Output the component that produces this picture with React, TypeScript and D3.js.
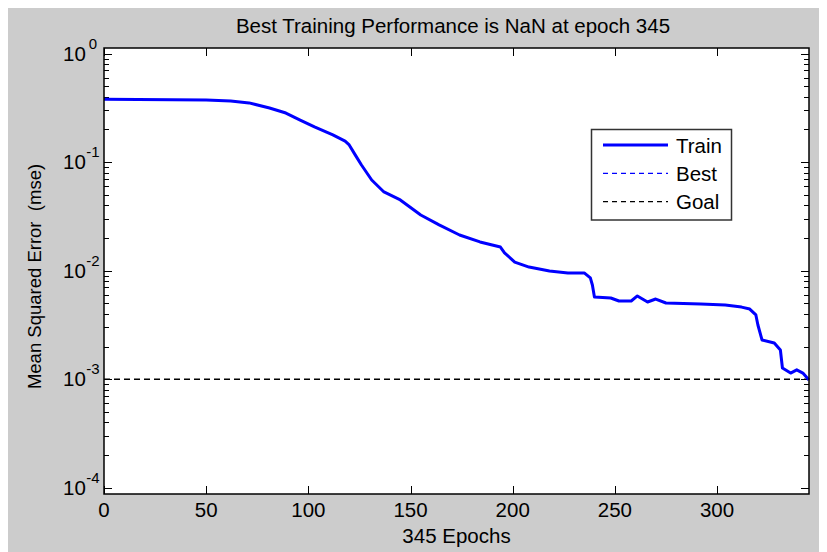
import React, { useRef, useEffect } from 'react';
import * as d3 from 'd3';

// Training record (epoch, mse)
const epochs = [0, 50, 62, 71, 81, 89, 96, 103, 112, 118, 120, 123, 126, 131, 137, 145, 155, 164, 174, 184,
  194, 196, 201, 208, 218, 227, 235, 238, 239, 240, 248, 252, 258, 261, 266, 270, 275, 292, 304, 312,
  316, 319, 320, 322, 328, 331, 332, 336, 339, 342, 345];
const trainMse = [0.379, 0.373, 0.365, 0.351, 0.315, 0.283, 0.244, 0.211, 0.178, 0.156, 0.144, 0.116, 0.094,
  0.0684, 0.0531, 0.0448, 0.0326, 0.0264, 0.0213, 0.0184, 0.0165, 0.0146, 0.012, 0.0108, 0.00993, 0.00953,
  0.00953, 0.00857, 0.00738, 0.00573, 0.0056, 0.00526, 0.00526, 0.00585, 0.00515, 0.00548, 0.00504, 0.00493,
  0.00483, 0.00462, 0.00443, 0.00391, 0.00316, 0.0023, 0.00216, 0.00186, 0.00127, 0.00114, 0.00122, 0.00114,
  0.000984];
const goal = 0.001;

const xTicks = [0, 50, 100, 150, 200, 250, 300];
const yExponents = [0, -1, -2, -3, -4];
const legendItems = ['Train', 'Best', 'Goal'];

const titleText = 'Best Training Performance is NaN at epoch 345';
const xLabel = '345 Epochs';
const yLabel = 'Mean Squared Error  (mse)';

const App = () => {
  const svgRef = useRef<SVGSVGElement>(null);

  useEffect(() => {
    const width = 819;
    const height = 544;
    const left = 96, right = 801, top = 40, bottom = 486;
    const font = '"Liberation Sans", Arial, sans-serif';

    const svg = d3.select(svgRef.current);
    svg.selectAll('*').remove();
    svg.attr('width', width).attr('height', height).style('display', 'block');

    svg.append('rect').attr('width', width).attr('height', height).attr('fill', '#cccccc');
    svg.append('rect')
      .attr('x', left).attr('y', top)
      .attr('width', right - left).attr('height', bottom - top)
      .attr('fill', '#ffffff');

    const x = d3.scaleLinear().domain([0, 345]).range([left, right]);
    const y = d3.scaleLog().domain([Math.pow(10, -4.057), Math.pow(10, 0.051)]).range([bottom, top]);

    // ticks, pointing inward on all four sides
    const ticks = svg.append('g').attr('stroke', '#000').attr('stroke-width', 1);
    xTicks.forEach(t => {
      const px = Math.round(x(t)) + 0.5;
      ticks.append('line').attr('x1', px).attr('x2', px).attr('y1', bottom).attr('y2', bottom - 8);
      ticks.append('line').attr('x1', px).attr('x2', px).attr('y1', top).attr('y2', top + 8);
    });
    yExponents.forEach(e => {
      const py = Math.round(y(Math.pow(10, e))) + 0.5;
      ticks.append('line').attr('x1', left).attr('x2', left + 8).attr('y1', py).attr('y2', py);
      ticks.append('line').attr('x1', right).attr('x2', right - 8).attr('y1', py).attr('y2', py);
      if (e > -4) {
        for (let m = 2; m <= 9; m++) {
          const v = m * Math.pow(10, e - 1);
          const my = Math.round(y(v)) + 0.5;
          ticks.append('line').attr('x1', left).attr('x2', left + 5).attr('y1', my).attr('y2', my);
          ticks.append('line').attr('x1', right).attr('x2', right - 5).attr('y1', my).attr('y2', my);
        }
      }
    });

    // goal line
    svg.append('line')
      .attr('x1', left).attr('x2', right)
      .attr('y1', y(goal)).attr('y2', y(goal))
      .attr('stroke', '#000').attr('stroke-width', 1.5)
      .attr('stroke-dasharray', '6,4');

    // train curve
    const line = d3.line<number>()
      .x((_, i) => x(epochs[i]))
      .y(d => y(d));
    svg.append('path')
      .datum(trainMse)
      .attr('fill', 'none')
      .attr('stroke', '#0000ff')
      .attr('stroke-width', 3)
      .attr('stroke-linejoin', 'round')
      .attr('d', line);

    // axes box
    svg.append('rect')
      .attr('x', left).attr('y', top)
      .attr('width', right - left).attr('height', bottom - top)
      .attr('fill', 'none').attr('stroke', '#000').attr('stroke-width', 1.5);

    // tick labels
    xTicks.forEach(t => {
      svg.append('text')
        .attr('x', x(t)).attr('y', 509)
        .attr('text-anchor', 'middle')
        .attr('font-family', font).attr('font-size', 20.5)
        .attr('fill', '#000')
        .text(t);
    });
    yExponents.forEach(e => {
      const t = svg.append('text')
        .attr('x', 55).attr('y', y(Math.pow(10, e)) + 7)
        .attr('font-family', font).attr('font-size', 20.5)
        .attr('fill', '#000');
      t.append('tspan').text('10');
      t.append('tspan')
        .attr('dx', e === 0 ? 3 : 0.5).attr('dy', -12)
        .attr('font-size', 15)
        .text(e);
    });

    // title and axis labels
    svg.append('text')
      .attr('x', 445).attr('y', 25)
      .attr('text-anchor', 'middle')
      .attr('font-family', font).attr('font-size', 20.5)
      .attr('fill', '#000')
      .text(titleText);
    svg.append('text')
      .attr('x', (left + right) / 2).attr('y', 535)
      .attr('text-anchor', 'middle')
      .attr('font-family', font).attr('font-size', 20.5)
      .attr('fill', '#000')
      .text(xLabel);
    svg.append('text')
      .attr('transform', `translate(33,${268.5}) rotate(-90)`)
      .attr('text-anchor', 'middle')
      .attr('font-family', font).attr('font-size', 18.5)
      .attr('fill', '#000')
      .style('white-space', 'pre')
      .text(yLabel);

    // legend
    const lg = svg.append('g');
    lg.append('rect')
      .attr('x', 583.5).attr('y', 121.5)
      .attr('width', 140).attr('height', 90.5)
      .attr('fill', '#ffffff').attr('stroke', '#333').attr('stroke-width', 1.5);
    const legendStyle = [
      { color: '#0000ff', width: 3, dash: null },
      { color: '#0000ff', width: 1.2, dash: '5,4' },
      { color: '#000000', width: 1.2, dash: '5,4' },
    ];
    legendItems.forEach((name, i) => {
      const ly = 137 + i * 28.3;
      const s = legendStyle[i];
      lg.append('line')
        .attr('x1', 595).attr('x2', 660)
        .attr('y1', ly).attr('y2', ly)
        .attr('stroke', s.color).attr('stroke-width', s.width)
        .attr('stroke-dasharray', s.dash);
      lg.append('text')
        .attr('x', 668).attr('y', ly + 7.5)
        .attr('font-family', font).attr('font-size', 20.5)
        .attr('fill', '#000')
        .text(name);
    });
  }, []);

  return <svg ref={svgRef}></svg>;
};

export default App;
